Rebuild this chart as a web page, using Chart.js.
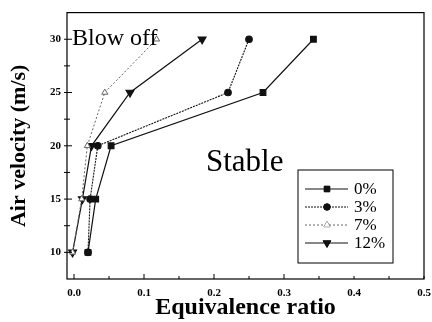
<!DOCTYPE html>
<html>
<head>
<meta charset="utf-8">
<script src="https://cdn.jsdelivr.net/npm/chart.js@4.4.1/dist/chart.umd.min.js"></script>
<style>
  html, body { margin: 0; padding: 0; background: #fff; }
  #wrap { width: 432px; height: 322px; position: relative; }
</style>
</head>
<body>
<div id="wrap"><canvas id="chart"></canvas></div>
<script>
// Air velocity levels (m/s)
const velocity = [10, 15, 20, 25, 30];

// Equivalence ratio at each velocity
const ratio0 = [0.02, 0.031, 0.053, 0.27, 0.342];
const ratio3 = [0.02, 0.023, 0.034, 0.22, 0.25];
const ratio7 = [-0.002, 0.011, 0.019, 0.044, 0.118];
const ratio12 = [-0.002, 0.012, 0.025, 0.08, 0.183];

const seriesLabels = ["0%", "3%", "7%", "12%"];
const xTicks = [0, 0.1, 0.2, 0.3, 0.4, 0.5];
const yTicks = [10, 15, 20, 25, 30];

const toPoints = (xs) => xs.map((x, i) => ({ x: x, y: velocity[i] }));

const serif = "'Liberation Serif', 'DejaVu Serif', serif";

// Frame, inward ticks, annotations and the boxed legend
const decorations = {
  id: "decorations",
  afterDraw(chart) {
    const { ctx, chartArea: a, scales } = chart;
    const xs = scales.x, ys = scales.y;
    ctx.save();
    ctx.strokeStyle = "#000";
    ctx.lineWidth = 1.2;
    ctx.strokeRect(a.left, a.top, a.right - a.left, a.bottom - a.top);

    ctx.lineWidth = 1;
    ctx.beginPath();
    for (let v = 0; v <= 0.5001; v += 0.05) {
      const px = xs.getPixelForValue(v);
      const len = Math.abs((v * 20) % 2) < 0.01 ? 5 : 3;
      ctx.moveTo(px, a.bottom);
      ctx.lineTo(px, a.bottom - len);
    }
    for (let v = 10; v <= 30; v += 2.5) {
      const py = ys.getPixelForValue(v);
      const len = v % 5 === 0 ? 5 : 3;
      ctx.moveTo(a.left - 3, py);
      ctx.lineTo(a.left + len, py);
    }
    ctx.stroke();

    ctx.fillStyle = "#000";
    ctx.font = "24px " + serif;
    ctx.textBaseline = "alphabetic";
    ctx.fillText("Blow off", 72, 45);
    ctx.font = "31px " + serif;
    ctx.fillText("Stable", 206, 171);

    // legend box
    const bx = 298, by = 170, bw = 95, bh = 93;
    ctx.lineWidth = 1;
    ctx.strokeRect(bx, by, bw, bh);
    ctx.font = "17px " + serif;
    chart.data.datasets.forEach((ds, i) => {
      const cy = by + 19 + i * 18;
      ctx.save();
      ctx.strokeStyle = ds.borderColor;
      ctx.lineWidth = 1;
      ctx.setLineDash(ds.borderDash || []);
      ctx.beginPath();
      ctx.moveTo(bx + 7, cy);
      ctx.lineTo(bx + 50, cy);
      ctx.stroke();
      ctx.setLineDash([]);
      Chart.helpers.drawPoint(ctx, {
        pointStyle: ds.pointStyle,
        radius: ds.pointRadius,
        rotation: ds.pointRotation || 0,
        borderWidth: 1
      }, bx + 29, cy);
      ctx.fillStyle = ds.pointBackgroundColor;
      ctx.strokeStyle = ds.borderColor;
      ctx.fill();
      ctx.restore();
      ctx.fillStyle = "#000";
      ctx.textBaseline = "middle";
      ctx.fillText(ds.label, bx + 56, cy + 1);
    });
    ctx.restore();
  }
};

new Chart(document.getElementById("chart"), {
  type: "line",
  data: {
    datasets: [
      {
        label: seriesLabels[0],
        data: toPoints(ratio0),
        borderColor: "#111",
        backgroundColor: "#111",
        pointBackgroundColor: "#111",
        pointStyle: "rect",
        pointRadius: 4,
        borderWidth: 1.2
      },
      {
        label: seriesLabels[1],
        data: toPoints(ratio3),
        borderColor: "#111",
        backgroundColor: "#111",
        pointBackgroundColor: "#111",
        pointStyle: "circle",
        pointRadius: 3.3,
        borderWidth: 1.1,
        borderDash: [2, 1]
      },
      {
        label: seriesLabels[2],
        data: toPoints(ratio7),
        borderColor: "#666",
        backgroundColor: "#fff",
        pointBackgroundColor: "#fff",
        pointStyle: "triangle",
        pointRadius: 3.5,
        borderWidth: 1,
        borderDash: [2, 2]
      },
      {
        label: seriesLabels[3],
        data: toPoints(ratio12),
        borderColor: "#111",
        backgroundColor: "#111",
        pointBackgroundColor: "#111",
        pointStyle: "triangle",
        pointRotation: 180,
        pointRadius: 4.5,
        borderWidth: 1.2
      }
    ]
  },
  options: {
    responsive: true,
    maintainAspectRatio: false,
    animation: false,
    layout: { padding: { top: 9, right: 0, left: 0, bottom: 0 } },
    plugins: {
      legend: { display: false },
      tooltip: { enabled: false }
    },
    scales: {
      x: {
        type: "linear",
        min: -0.01,
        max: 0.5,
        afterBuildTicks: (s) => { s.ticks = xTicks.map(v => ({ value: v })); },
        afterFit: (s) => { s.height = 43; s.paddingRight = 8; s.paddingLeft = 0; },
        grid: { display: false, drawTicks: false },
        border: { display: false },
        ticks: {
          padding: 8,
          color: "#000",
          font: { family: serif, size: 11, weight: "bold" },
          callback: (v) => Number(v).toFixed(1)
        },
        title: {
          display: true,
          text: "Equivalence ratio",
          color: "#000",
          padding: { top: -5, bottom: 0 },
          font: { family: serif, size: 24, weight: "bold" }
        }
      },
      y: {
        type: "linear",
        min: 7.5,
        max: 32.5,
        afterBuildTicks: (s) => { s.ticks = yTicks.map(v => ({ value: v })); },
        afterFit: (s) => { s.width = 67; },
        grid: { display: false, drawTicks: false },
        border: { display: false },
        ticks: {
          padding: 6,
          color: "#000",
          font: { family: serif, size: 11, weight: "bold" }
        },
        title: {
          display: true,
          text: "Air velocity (m/s)",
          color: "#000",
          padding: { top: 6, bottom: 0 },
          font: { family: serif, size: 22, weight: "bold" }
        }
      }
    }
  },
  plugins: [decorations]
});
</script>
</body>
</html>
